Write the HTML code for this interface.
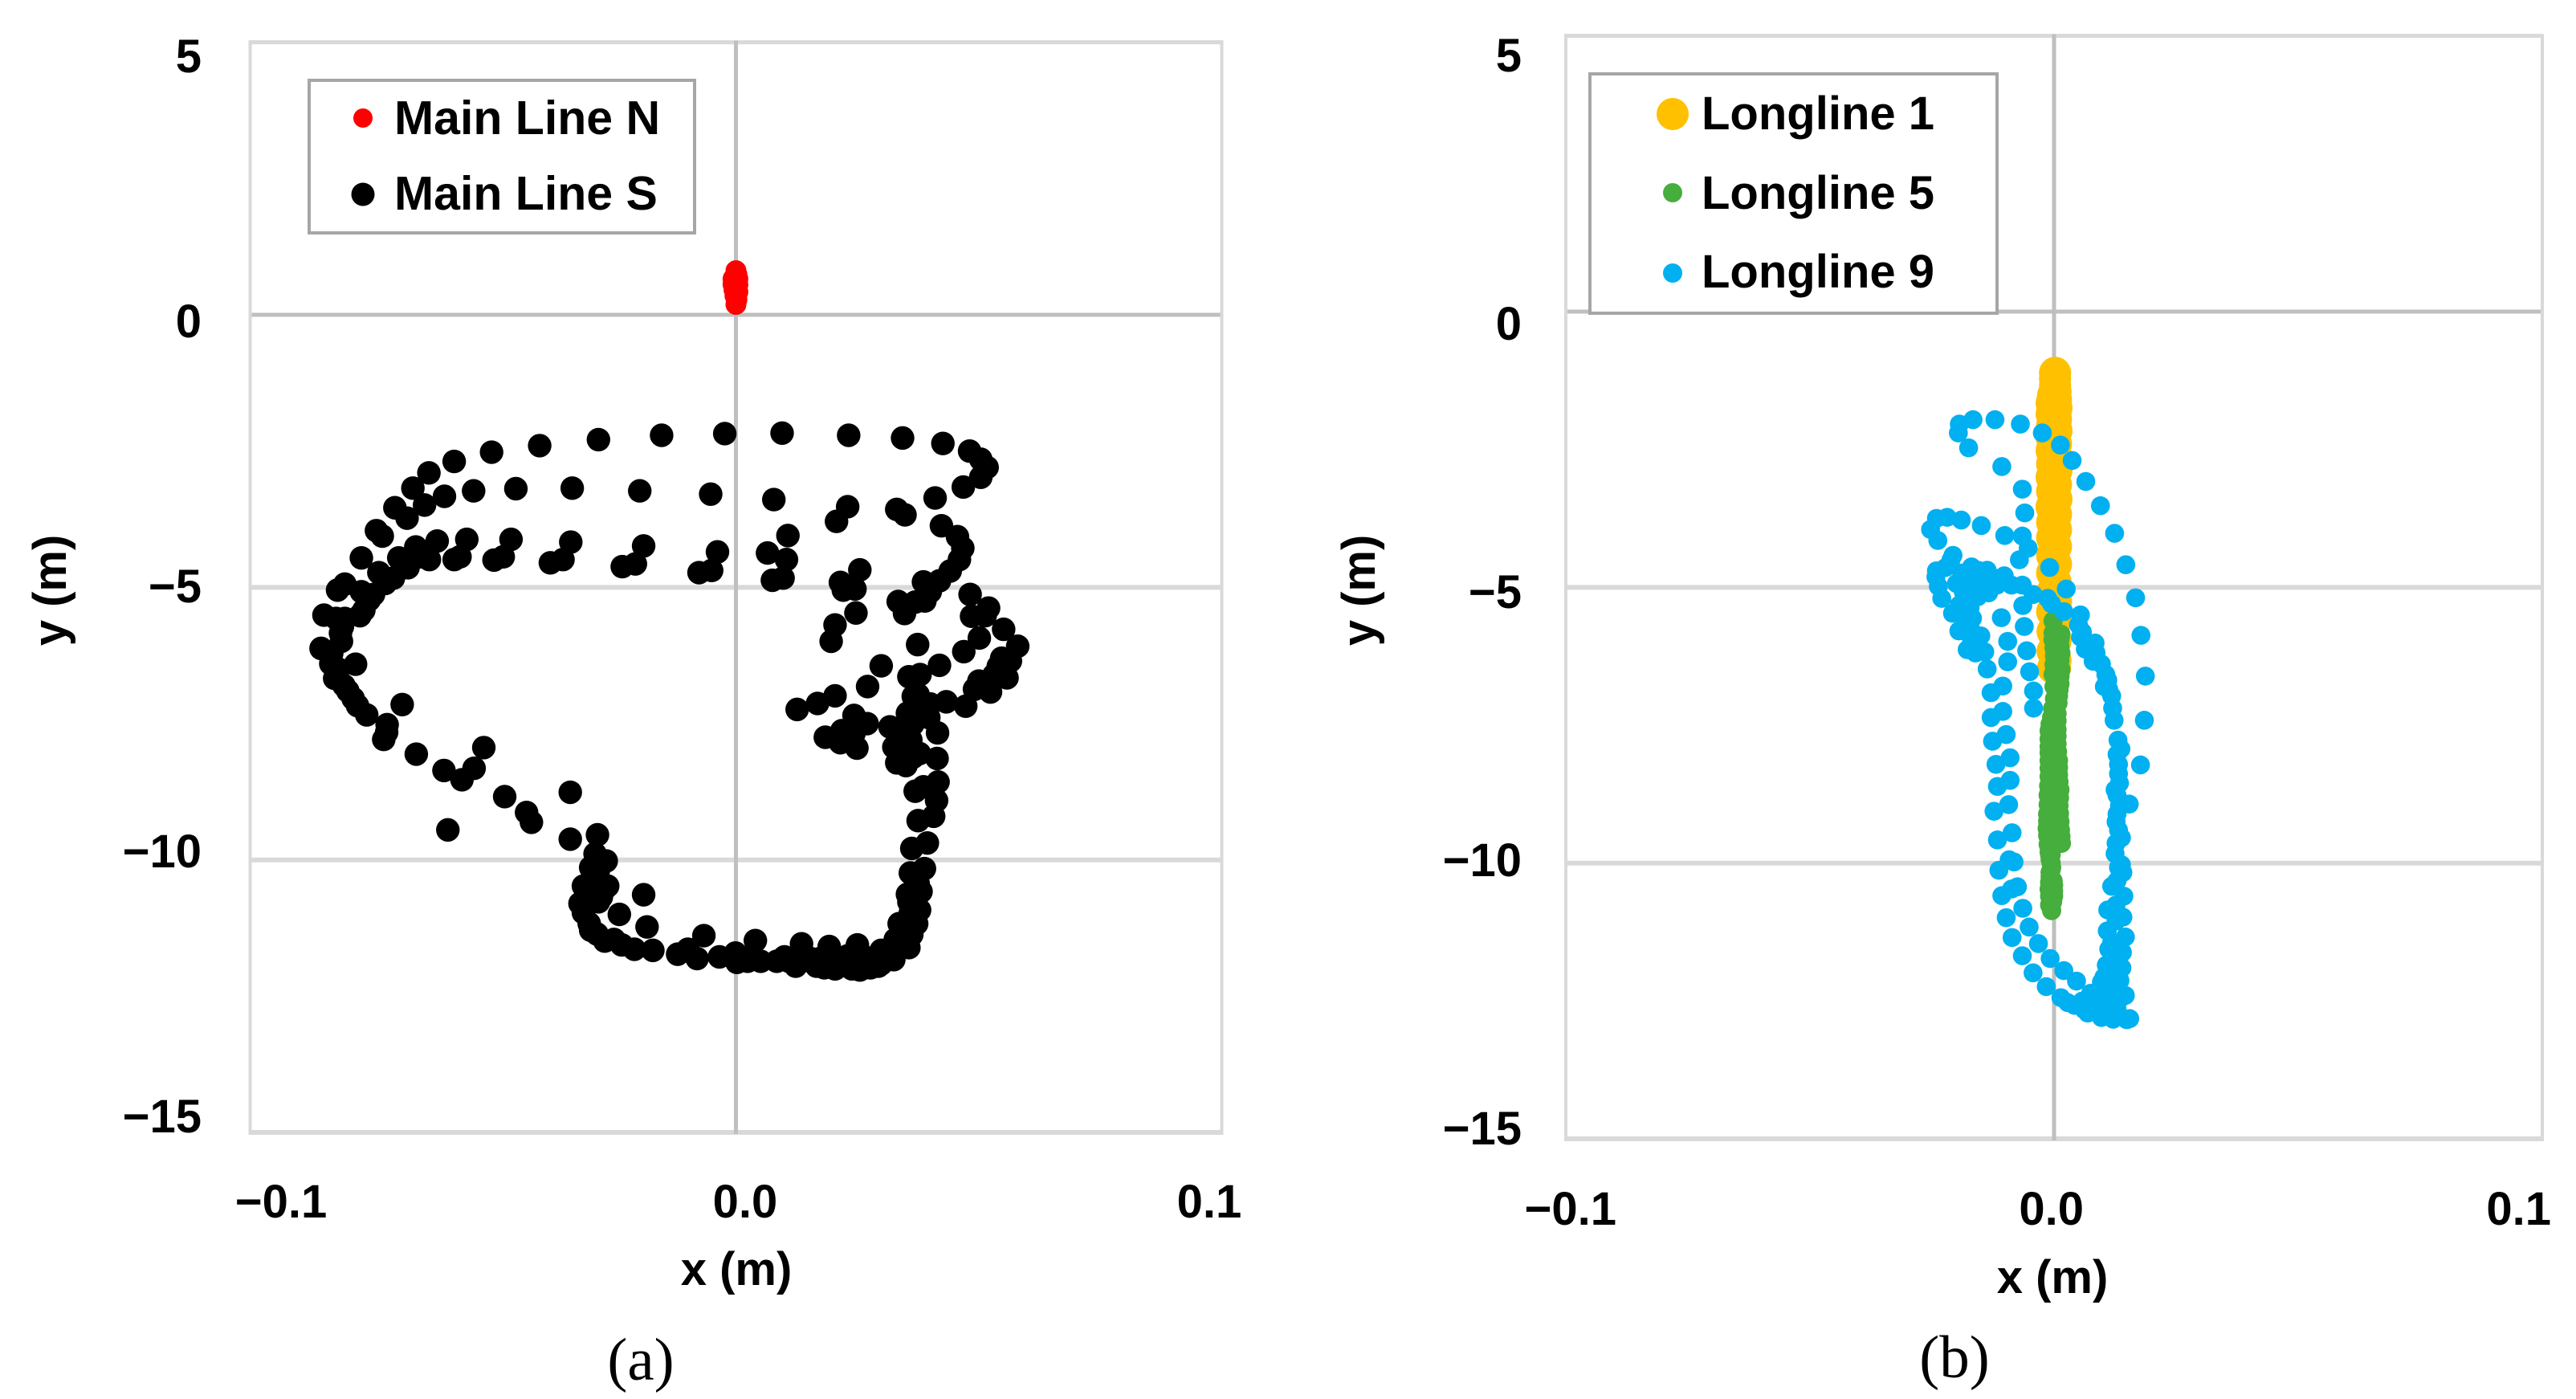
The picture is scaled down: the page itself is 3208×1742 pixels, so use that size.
<!DOCTYPE html>
<html lang="en">
<head>
<meta charset="utf-8">
<title>Displacement scatter charts</title>
<style>
html,body{margin:0;padding:0;background:#fff;}
svg{display:block;}
text{font-family:"Liberation Sans",sans-serif;font-weight:700;fill:#000;font-size:58px;}
.cap{font-family:"Liberation Serif",serif;font-weight:400;font-size:75px;}
</style>
</head>
<body>
<svg id="fig" xmlns="http://www.w3.org/2000/svg" width="3208" height="1742" viewBox="0 0 3208 1742"></svg>
<script>
const xTicks = [-0.1, 0.0, 0.1];
const xTickLabels = ['\u22120.1', '0.0', '0.1'];
const yTicks = [5, 0, -5, -10, -15];
const yTickLabels = ['5', '0', '\u22125', '\u221210', '\u221215'];

const mainLineN = [[0,0.81],[0.0002,0.74],[-0.0006,0.66],[-0.0006,0.56],[0.0004,0.66],[0.0004,0.55],[0.0004,0.42],[-0.0004,0.46],[-0.0002,0.35],[0.0002,0.28],[0,0.19]];

const mainLineS = [
[-0.0153,-2.21],[-0.0283,-2.29],[-0.0404,-2.40],[-0.0503,-2.52],[-0.0580,-2.69],[-0.0632,-2.90],[-0.0665,-3.18],[-0.0702,-3.54],[-0.0677,-3.73],[-0.0641,-3.49],[-0.0600,-3.33],[-0.0540,-3.23],[-0.0453,-3.19],[-0.0337,-3.18],[-0.0198,-3.23],[-0.0740,-3.96],[-0.0728,-4.06],[-0.0771,-4.46],
[-0.0190,-4.24],[-0.0207,-4.57],[-0.0234,-4.62],[-0.0340,-4.17],[-0.0356,-4.49],[-0.0382,-4.55],[-0.0463,-4.12],[-0.0479,-4.44],[-0.0498,-4.50],[-0.0554,-4.12],[-0.0568,-4.44],[-0.0580,-4.49],[-0.0615,-4.15],[-0.0631,-4.49],[-0.0659,-4.26],[-0.0675,-4.64],[-0.0694,-4.46],[-0.0705,-4.83],[-0.0735,-4.73],[-0.0746,-5.13],[-0.0805,-4.94],[-0.0820,-5.05],[-0.0848,-5.51],[-0.0805,-5.57],[-0.0774,-5.52],[-0.0771,-5.08],[-0.0814,-5.84],[-0.0812,-5.99],[-0.0854,-6.12],[-0.0834,-6.40],[-0.0783,-6.41],[-0.0826,-6.67],[-0.0799,-6.90],[-0.0788,-7.04],[-0.0760,-7.34],[-0.0718,-7.52],[-0.0725,-7.79],[-0.0687,-7.15],[-0.0658,-8.06],[-0.0601,-8.36],[-0.0564,-8.53],[-0.0539,-8.32],[-0.0519,-7.94],[-0.0476,-8.84],[-0.0593,-9.45],
[-0.0722,-4.93],[-0.0650,-4.44],[-0.0636,-4.34],[-0.0672,-4.49],[-0.0755,-5.23],[-0.0766,-5.42],[-0.0818,-6.50],[-0.0832,-6.21],[-0.0807,-6.80],[-0.0779,-7.17],[-0.0719,-7.66],[-0.0823,-5.57],[-0.0810,-5.72],
[-0.0431,-9.13],[-0.0421,-9.31],[-0.0341,-8.76],[-0.0341,-9.62],[-0.0285,-9.54],[-0.0290,-9.89],[-0.0267,-10.02],[-0.0299,-10.14],[-0.0314,-10.48],[-0.0270,-10.53],[-0.0264,-10.48],[-0.0321,-10.80],[-0.0314,-10.97],[-0.0299,-11.29],[-0.0240,-11.00],[-0.0190,-10.64],[-0.0183,-11.23],[-0.0270,-11.49],[-0.0235,-11.56],[-0.0209,-11.64],[-0.0171,-11.66],[-0.0120,-11.73],[-0.0099,-11.64],[-0.0080,-11.81],[-0.0066,-11.39],[-0.0034,-11.78],[-0.0001,-11.71],[0.0024,-11.86],[0.0040,-11.48],[0.0051,-11.86],[0.0100,-11.78],[0.0123,-11.95],[0.0135,-11.54],[0.0154,-11.81],[0.0182,-11.98],[0.0192,-11.59],[0.0214,-11.91],[0.0239,-12.00],[0.0250,-11.56],[0.0277,-11.98],[0.0299,-11.66],[0.0325,-11.83],[0.0328,-11.46],[0.0356,-11.61],[0.0350,-11.27],[0.0372,-11.17],[0.0359,-10.97],[0.0378,-10.92],[0.0353,-10.63],[0.0381,-10.58],[0.0359,-10.24],[0.0388,-10.16],[0.0362,-9.79],[0.0394,-9.69],[0.0375,-9.28],[0.0407,-9.20],[0.0369,-8.74],[0.0413,-8.91],[0.0416,-8.57],[0.0299,-11.91],[0.0223,-11.86],[0.0336,-11.17],[0.0362,-11.37],[0.0268,-11.81],[0.0109,-11.86],[0.0173,-11.81],[0.0375,-10.43],
[0.0135,-11.86],[0.0166,-11.95],[0.0204,-12.00],[0.0255,-12.02],[0.0293,-11.95],[0.0325,-11.66],[0.0261,-11.76],[0.0230,-11.76],[0.0192,-11.86],[0.0343,-11.41],[0.0362,-10.97],[0.0356,-10.77],[0.0375,-10.28],[0.0034,-11.76],[0.0002,-11.88],[0.0084,-11.86],
[-0.0283,-10.77],[-0.0289,-10.38],[-0.0283,-10.19],[-0.0302,-11.17],[-0.0286,-11.36],[-0.0251,-11.46],[-0.0277,-10.68],[-0.0295,-10.58],
[-0.0023,-2.18],[0.0095,-2.17],[0.0232,-2.21],[0.0343,-2.26],[0.0426,-2.36],[0.0481,-2.50],[0.0504,-2.65],[0.0517,-2.80],[0.0504,-2.98],[0.0468,-3.16],[0.0410,-3.36],[0.0331,-3.57],[0.0348,-3.67],[0.0230,-3.52],[0.0207,-3.79],[0.0078,-3.39],[-0.0052,-3.29],[-0.0038,-4.35],[-0.0050,-4.69],[-0.0076,-4.73],[0.0107,-4.05],[0.0065,-4.37],[0.0104,-4.49],[0.0097,-4.83],[0.0075,-4.87],[0.0255,-4.68],[0.0215,-4.91],[0.0245,-5.03],[0.0221,-5.05],[0.0247,-5.47],[0.0204,-5.69],[0.0196,-5.99],[0.0423,-3.87],[0.0456,-4.07],[0.0467,-4.28],[0.0460,-4.49],[0.0441,-4.70],[0.0386,-4.90],[0.0419,-4.88],[0.0389,-5.25],[0.0334,-5.26],[0.0347,-5.48],[0.0369,-5.27],[0.0400,-5.08],[0.0482,-5.13],[0.0520,-5.38],[0.0485,-5.53],[0.0513,-5.52],[0.0551,-5.77],[0.0580,-6.08],[0.0501,-5.93],[0.0469,-6.18],[0.0547,-6.30],[0.0565,-6.35],[0.0558,-6.66],[0.0531,-6.61],[0.0524,-6.92],[0.0491,-6.87],[0.0473,-7.18],[0.0433,-7.10],[0.0374,-6.05],[0.0419,-6.43],[0.0299,-6.44],[0.0379,-6.60],[0.0356,-6.64],[0.0271,-6.82],[0.0204,-6.99],[0.0168,-7.13],[0.0126,-7.24],[0.0375,-6.97],[0.0400,-7.14],[0.0243,-7.35],[0.0270,-7.50],[0.0218,-7.63],[0.0184,-7.75],[0.0215,-7.85],[0.0249,-7.95],[0.0243,-7.68],[0.0317,-7.56],[0.0353,-7.31],[0.0364,-7.51],[0.0397,-7.39],[0.0415,-7.67],[0.0325,-7.93],[0.0331,-8.22],[0.0350,-8.27],[0.0364,-8.12],[0.0378,-8.05],[0.0414,-8.14],[0.0331,-7.68],[0.0342,-7.93],[0.0386,-8.66],
[0.0385,-7.20],[0.0365,-7.00],[0.0340,-7.75],[0.0360,-7.80],[0.0345,-8.10],[0.0540,-6.45],[0.0500,-6.72]
];

const longline1 = [
[0.0002,-1.11],[0.0002,-1.22],[0.0002,-1.34],[0.0003,-1.45],[-0.0002,-1.52],[0.0004,-1.60],[-0.0005,-1.66],[0.0005,-1.75],[-0.0005,-1.86],[0.0004,-1.95],[-0.0004,-2.06],[0.0005,-2.16],[-0.0005,-2.28],[0.0004,-2.40],[-0.0005,-2.52],[0.0005,-2.64],[-0.0004,-2.76],[0.0005,-2.88],[-0.0005,-3.00],[0.0004,-3.14],[-0.0004,-3.26],[0.0005,-3.40],[-0.0005,-3.54],[0.0004,-3.68],[-0.0004,-3.82],[0.0004,-3.96],[-0.0004,-4.10],[0.0004,-4.26],[-0.0004,-4.42],[0.0004,-4.58],[-0.0004,-4.74],[0.0003,-4.90],[-0.0003,-5.08],[0.0004,-5.26],[-0.0004,-5.44],[0.0003,-5.62],[-0.0003,-5.80],[0.0003,-5.98],[-0.0003,-6.16],[0.0003,-6.32],[-0.0002,-6.46],[0.0002,-6.47]
];

const longline5 = [
[-0.0002,-5.61],[0.0014,-5.85],[-0.0002,-5.83],[0.0014,-6.19],[0.0001,-6.24],[0.0014,-6.49],[-0.0002,-6.58],[0.0009,-6.97],[0.0001,-7.02],[0.0006,-7.29],[-0.0005,-7.36],[0.0006,-7.58],[-0.0010,-7.60],[0.0006,-7.84],[-0.0010,-7.89],[0.0009,-8.14],[-0.0010,-8.14],[0.0009,-8.40],[-0.0010,-8.43],[0.0012,-8.67],[-0.0012,-8.77],[0.0010,-8.96],[-0.0013,-9.11],[0.0012,-9.25],[-0.0014,-9.37],[0.0015,-9.64],[-0.0012,-9.66],[-0.0008,-9.93],[-0.0005,-10.08],[-0.0008,-10.17],[-0.0002,-10.32],[-0.0010,-10.47],[-0.0001,-10.51],[-0.0009,-10.76],[-0.0005,-10.86],
[0.0012,-5.95],[0.0012,-6.07],[0.0012,-6.32],[0.0012,-6.62],[0.0012,-6.75],[0.0010,-6.86],[0.0008,-7.10],[0.0006,-7.42],[0.0006,-7.70],[0.0007,-7.98],[0.0009,-8.27],[0.0010,-8.53],[0.0011,-8.82],[0.0011,-9.10],[0.0013,-9.40],[0.0014,-9.52],
[-0.0002,-5.95],[0,-6.10],[0,-6.40],[0,-6.80],[-0.0003,-7.20],[-0.0008,-7.48],[-0.0010,-7.75],[-0.0010,-8.00],[-0.0010,-8.28],[-0.0011,-8.60],[-0.0012,-8.94],[-0.0013,-9.24],[-0.0013,-9.50],[-0.0010,-9.80],
[-0.0006,-10.00],[-0.0006,-10.12],[-0.0008,-10.25],[-0.0001,-10.40],[-0.0009,-10.35],[-0.0001,-10.60],[-0.0009,-10.60],[-0.0003,-10.70],[-0.0009,-9.85],[-0.0006,-9.85],[-0.0006,-10.80]
];

const longline9 = [
[-0.0166,-1.96],[-0.0121,-1.96],[-0.0069,-2.04],[-0.0024,-2.20],[0.0013,-2.42],[0.0037,-2.70],[0.0065,-3.08],[0.0095,-3.52],[0.0124,-4.02],[0.0147,-4.59],[0.0167,-5.19],[0.0178,-5.87],[0.0187,-6.61],[0.0185,-7.41],[0.0177,-8.22],
[-0.0194,-2.04],[-0.0196,-2.20],[-0.0175,-2.47],[-0.0107,-2.81],[-0.0065,-3.22],[-0.0060,-3.65],[-0.0190,-3.78],[-0.0149,-3.88],[-0.0219,-3.73],[-0.0241,-3.75],[-0.0253,-3.95],[-0.0238,-4.15],[-0.0101,-4.06],[-0.0065,-4.07],[-0.0053,-4.29],[-0.0071,-4.50],[-0.0207,-4.42],[-0.0009,-4.64],[0.0025,-5.03],[-0.0169,-4.63],[-0.0137,-4.69],[-0.0102,-4.79],[-0.0065,-4.96],[-0.0241,-4.70],[-0.0242,-4.81],[-0.0237,-4.98],[-0.0230,-5.20],[-0.0189,-4.74],[-0.0156,-4.83],[-0.0186,-5.08],[-0.0150,-4.98],[-0.0117,-4.96],[-0.0087,-4.96],[-0.0043,-5.13],[-0.0013,-5.20],[-0.0005,-5.30],[0.0020,-5.44],[0.0054,-5.50],[0.0050,-5.68],[0.0054,-5.90],[0.0084,-6.01],[0.0080,-6.34],[0.0097,-6.39],[0.0106,-6.58],[0.0103,-6.80],[0.0112,-6.85],[0.0120,-7.19],[0.0123,-7.41],
[-0.0134,-5.10],[-0.0178,-5.13],[-0.0172,-5.37],[-0.0208,-5.47],[-0.0167,-5.56],[-0.0195,-5.79],[-0.0150,-5.88],[-0.0178,-6.13],[-0.0142,-6.17],[-0.0137,-6.48],[-0.0064,-5.33],[-0.0108,-5.55],[-0.0061,-5.71],[-0.0095,-5.98],[-0.0056,-6.15],[-0.0095,-6.35],[-0.0050,-6.53],[-0.0105,-6.79],[-0.0129,-6.91],[-0.0042,-6.88],[-0.0042,-7.19],[-0.0105,-7.25],[-0.0129,-7.36],
[-0.0178,-4.88],[-0.0194,-5.32],[-0.0172,-5.71],[-0.0169,-5.95],[-0.0156,-5.17],[-0.0161,-6.19],[-0.0123,-4.83],[-0.0200,-4.93],[-0.0183,-5.51],[-0.0211,-4.50],[-0.0222,-4.64],[-0.0156,-4.69],[0.0058,-5.81],[0.0064,-6.12],[0.0086,-6.19],[0.0110,-6.68],[0.0118,-6.97],
[-0.0098,-7.67],[-0.0126,-7.79],[-0.0090,-8.09],[-0.0119,-8.21],[-0.0090,-8.50],[-0.0116,-8.61],[-0.0093,-8.94],[-0.0123,-9.06],[-0.0086,-9.45],[-0.0116,-9.58],[-0.0082,-9.98],[-0.0092,-9.94],[-0.0113,-10.13],[-0.0075,-10.43],[-0.0107,-10.59],[-0.0087,-10.47],[-0.0064,-10.82],[-0.0098,-10.99],[-0.0051,-11.16],[-0.0086,-11.35],[-0.0032,-11.46],[-0.0065,-11.68],[-0.0008,-11.73],[-0.0043,-11.99],[0.0020,-11.95],[0.0046,-12.14],[-0.0016,-12.24],[0.0014,-12.44],[0.0042,-12.58],[0.0069,-12.72],[0.0097,-12.80],[0.0121,-12.83],[0.0149,-12.84],[0.0155,-12.82],[0.0146,-12.40],[0.0075,-12.36],
[0.0131,-7.77],[0.0137,-7.93],[0.0129,-8.03],[0.0132,-8.38],[0.0134,-8.55],[0.0125,-8.67],[0.0154,-8.93],[0.0134,-8.96],[0.0127,-9.25],[0.0138,-9.54],[0.0125,-9.83],[0.0138,-10.03],[0.0141,-10.17],[0.0118,-10.42],[0.0143,-10.60],[0.0110,-10.85],[0.0141,-10.98],[0.0109,-11.23],[0.0146,-11.34],[0.0112,-11.56],[0.0140,-11.62],[0.0107,-11.85],[0.0139,-11.90],[0.0102,-12.07],[0.0135,-12.13],[0.0097,-12.31],[0.0121,-12.41],[0.0107,-12.60],[0.0129,-12.65],[0.0124,-11.82],[0.0124,-12.12],
[0.0118,-11.44],[0.0127,-11.68],[0.0113,-12.02],[0.0124,-12.26],[0.0113,-12.46],[0.0091,-12.55],[0.0080,-12.65],[0.0135,-12.46],[0.0124,-12.65],[0.0127,-11.05],[0.0127,-10.76],[0.0129,-10.32],[0.0132,-10.08],[0.0127,-9.64],[0.0132,-9.40],[0.0129,-9.11],[0.0129,-8.77],[0.0132,-8.21],[0.0097,-12.16],[0.0107,-12.31],[0.0058,-12.50],[0.0028,-12.53],[0.0062,-12.66]
];

const NS = 'http://www.w3.org/2000/svg';
const fig = document.getElementById('fig');

function make(tag, attrs, parent, txt) {
  const n = document.createElementNS(NS, tag);
  for (const k in attrs) n.setAttribute(k, attrs[k]);
  if (txt !== undefined) n.textContent = txt;
  parent.appendChild(n);
  return n;
}

function drawSeries(g, pts, sx, sy, r, color, name) {
  for (const p of pts) {
    const c = make('circle', {cx: sx(p[0]), cy: sy(p[1]), r: r, fill: color}, g);
    
    
  }
}

function drawChart(cfg) {
  const sx = v => cfg.x0 + v * cfg.xScale;
  const sy = v => cfg.y0 - v * cfg.yScale;
  const root = make('g', {}, fig);
  
  

  const left = sx(xTicks[0]), right = sx(xTicks[2]);
  const top = sy(yTicks[0]), bottom = sy(yTicks[4]);
  const grid = make('g', {}, root);
  
  
  for (const v of yTicks) {
    const isZero = v === 0;
    const edge = v === 5;
    const l = make('line', {x1: left - 2, x2: right + 2, y1: sy(v), y2: sy(v), stroke: isZero ? '#bfbfbf' : '#d9d9d9', 'stroke-width': edge ? 5 : (isZero ? 5 : 6)}, grid);
    
    
  }
  for (const v of xTicks) {
    const isZero = v === 0;
    const l = make('line', {x1: sx(v), x2: sx(v), y1: top - 2, y2: bottom + 2, stroke: isZero ? '#bfbfbf' : '#d9d9d9', 'stroke-width': isZero ? 5 : 4}, grid);
    
    
  }

  for (const s of cfg.series) {
    const g = make('g', {}, root);
    
    
    drawSeries(g, s.pts, sx, sy, s.r, s.color, s.name);
  }

  yTicks.forEach((v, i) => {
    const t = make('text', {x: cfg.yLabelRight, y: cfg.yLabelBase + (yTicks[0] - v) * cfg.yLabelStep, 'text-anchor': 'end'}, root, yTickLabels[i]);
    
    
  });
  xTicks.forEach((v, i) => {
    const t = make('text', {x: cfg.xLabelZero + v * cfg.xLabelStep, y: cfg.xLabelBase, 'text-anchor': cfg.xLabelAnchor}, root, xTickLabels[i]);
    
    
  });

  const xt = make('text', {x: cfg.xTitleX, y: cfg.xTitleY, 'text-anchor': 'middle'}, root, 'x (m)');
  
  
  const yt = make('text', {x: 0, y: 0, 'text-anchor': 'middle', transform: 'translate(' + cfg.yTitleX + ' ' + cfg.yTitleY + ') rotate(-90)'}, root, 'y (m)');
  
  
  const cap = make('text', {x: cfg.capX, y: cfg.capY, 'text-anchor': 'middle', 'class': 'cap'}, root, cfg.caption);
  
  

  const lg = make('g', {}, root);
  
  
  const b = cfg.legend;
  make('rect', {x: b.x, y: b.y, width: b.w, height: b.h, fill: '#fff', stroke: '#a6a6a6', 'stroke-width': 4}, lg);
  cfg.series.forEach((s, i) => {
    const e = b.entries[i];
    const m = make('circle', {cx: b.markX, cy: e.my, r: e.r, fill: s.color}, lg);
    
    
    const t = make('text', {x: b.textX, y: e.base, style: 'font-size:' + b.fs + 'px'}, lg, s.label);
    
    
  });
}

drawChart({
  name: 'chart-a', caption: '(a)',
  x0: 916.5, xScale: 6050, y0: 392, yScale: 67.87,
  yLabelRight: 251, yLabelBase: 90, yLabelStep: 66,
  xLabelZero: 928, xLabelStep: 5780, xLabelBase: 1516, xLabelAnchor: 'middle',
  xTitleX: 917, xTitleY: 1600, yTitleX: 82, yTitleY: 735, capX: 798, capY: 1718,
  series: [
    {name: 'main-line-n', label: 'Main Line N', pts: mainLineN, r: 13, color: '#ff0000'},
    {name: 'main-line-s', label: 'Main Line S', pts: mainLineS, r: 14.7, color: '#000000'}
  ],
  legend: {x: 385, y: 100, w: 480, h: 190, markX: 452, textX: 491, fs: 59,
    entries: [{my: 147, r: 12, base: 167}, {my: 242, r: 14.5, base: 261}]}
});

drawChart({
  name: 'chart-b', caption: '(b)',
  x0: 2558, xScale: 6080, y0: 388, yScale: 68.67,
  yLabelRight: 1895, yLabelBase: 89, yLabelStep: 66.8,
  xLabelZero: 2595, xLabelStep: 5820, xLabelBase: 1525, xLabelAnchor: 'end',
  xTitleX: 2556, xTitleY: 1610, yTitleX: 1712, yTitleY: 735, capX: 2434, capY: 1715,
  series: [
    {name: 'longline-1', label: 'Longline 1', pts: longline1, r: 20, color: '#ffc000'},
    {name: 'longline-5', label: 'Longline 5', pts: longline5, r: 12, color: '#46ae3c'},
    {name: 'longline-9', label: 'Longline 9', pts: longline9, r: 11.8, color: '#00b0f0'}
  ],
  legend: {x: 1980, y: 92, w: 507, h: 298, markX: 2083, textX: 2119, fs: 58,
    entries: [{my: 142, r: 20, base: 161}, {my: 240, r: 12, base: 260}, {my: 340, r: 12, base: 358}]}
});
</script>
</body>
</html>
